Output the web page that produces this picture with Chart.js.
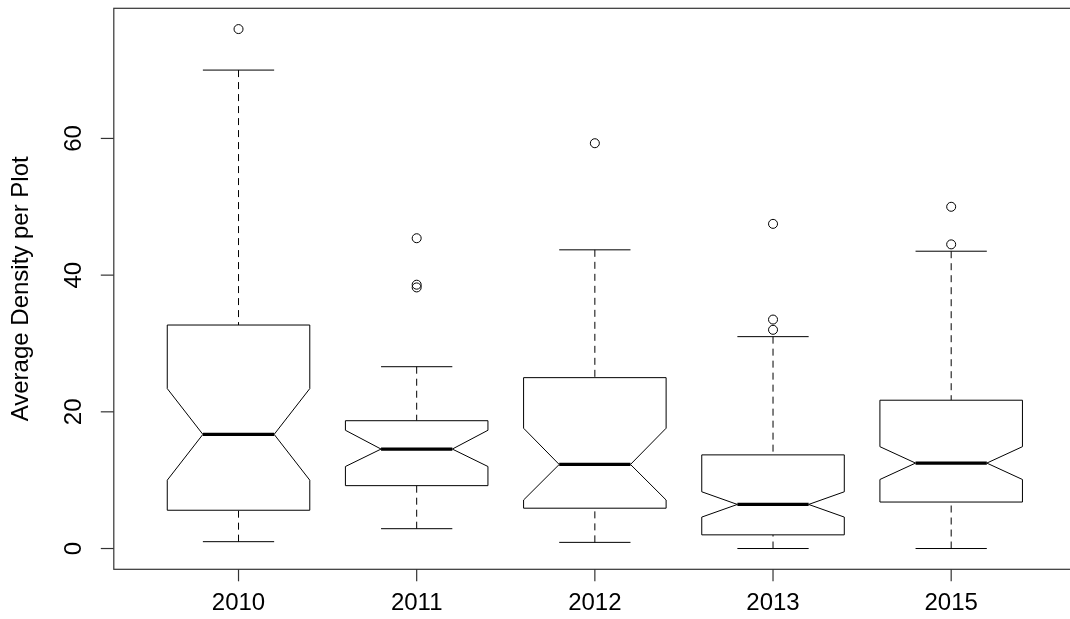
<!DOCTYPE html>
<html><head><meta charset="utf-8">
<script src="https://cdn.jsdelivr.net/npm/chart.js@4"></script>
<style>
html,body{margin:0;padding:0;background:#fff;overflow:hidden;width:1070px;height:619px}
#wrap{width:1070px;height:619px}
canvas{display:block}
</style></head>
<body><div id="wrap"><canvas id="c" width="1070" height="619"></canvas></div>
<script>
// ---- data ----
const categories   = ['2010', '2011', '2012', '2013', '2015'];
const lowerWhisker = [1.0, 2.9, 0.9, 0.0, 0.0];
const q1           = [5.6, 9.2, 5.9, 2.0, 6.8];
const notchLow     = [10.0, 12.0, 7.1, 4.6, 10.1];
const median       = [16.7, 14.55, 12.3, 6.45, 12.5];
const notchHigh    = [23.4, 17.3, 17.6, 8.3, 14.9];
const q3           = [32.7, 18.7, 25.0, 13.7, 21.7];
const upperWhisker = [70.0, 26.6, 43.7, 31.0, 43.5];
const outliers     = [[76.0], [45.4, 38.6, 38.2], [59.3], [47.5, 33.5, 32.0], [50.0, 44.5]];
const yTicks       = [0, 20, 40, 60];
const yTitle       = 'Average Density per Plot';

// ---- styling constants ----
const FONT = '24px "Liberation Sans", Arial, sans-serif';
const BOX_HALF = 0.4, NOTCH_HALF = 0.2, CAP_HALF = 0.2;
const X_FRAME_MAX = 5.7;   // R's extended x range end (lies just past the visible page)

const outlierPoints = [];
outliers.forEach((arr, i) => arr.forEach(v => outlierPoints.push({x: i + 1, y: v})));

const boxPlugin = {
  id: 'notchedBoxes',
  beforeDatasetsDraw(chart) {
    const {ctx, scales: {x, y}} = chart;
    const X = v => x.getPixelForValue(v);
    const Y = v => y.getPixelForValue(v);
    ctx.save();
    ctx.strokeStyle = '#000';
    ctx.lineWidth = 1;
    categories.forEach((c, i) => {
      const cx = i + 1;
      ctx.setLineDash([7, 5]);
      ctx.beginPath();
      ctx.moveTo(X(cx), Y(upperWhisker[i])); ctx.lineTo(X(cx), Y(q3[i]));
      ctx.moveTo(X(cx), Y(lowerWhisker[i])); ctx.lineTo(X(cx), Y(q1[i]));
      ctx.stroke();
      ctx.setLineDash([]);
      ctx.beginPath();
      ctx.moveTo(X(cx - CAP_HALF), Y(upperWhisker[i])); ctx.lineTo(X(cx + CAP_HALF), Y(upperWhisker[i]));
      ctx.moveTo(X(cx - CAP_HALF), Y(lowerWhisker[i])); ctx.lineTo(X(cx + CAP_HALF), Y(lowerWhisker[i]));
      ctx.stroke();
      ctx.beginPath();
      ctx.moveTo(X(cx - BOX_HALF), Y(q1[i]));
      ctx.lineTo(X(cx - BOX_HALF), Y(notchLow[i]));
      ctx.lineTo(X(cx - NOTCH_HALF), Y(median[i]));
      ctx.lineTo(X(cx - BOX_HALF), Y(notchHigh[i]));
      ctx.lineTo(X(cx - BOX_HALF), Y(q3[i]));
      ctx.lineTo(X(cx + BOX_HALF), Y(q3[i]));
      ctx.lineTo(X(cx + BOX_HALF), Y(notchHigh[i]));
      ctx.lineTo(X(cx + NOTCH_HALF), Y(median[i]));
      ctx.lineTo(X(cx + BOX_HALF), Y(notchLow[i]));
      ctx.lineTo(X(cx + BOX_HALF), Y(q1[i]));
      ctx.closePath();
      ctx.fillStyle = '#fff';
      ctx.fill();
      ctx.stroke();
      ctx.lineWidth = 3.2;
      ctx.beginPath();
      ctx.moveTo(X(cx - NOTCH_HALF), Y(median[i])); ctx.lineTo(X(cx + NOTCH_HALF), Y(median[i]));
      ctx.stroke();
      ctx.lineWidth = 1;
    });
    ctx.restore();
  },
  afterDraw(chart) {
    const {ctx, chartArea: a, scales: {x, y}} = chart;
    ctx.save();
    ctx.strokeStyle = '#333';
    ctx.lineWidth = 1.2;
    const right = x.getPixelForValue(X_FRAME_MAX);
    ctx.strokeRect(a.left, a.top, right - a.left, a.bottom - a.top);
    ctx.fillStyle = '#000';
    ctx.font = FONT;
    ctx.textAlign = 'center';
    ctx.textBaseline = 'middle';
    categories.forEach((c, i) => {
      const px = x.getPixelForValue(i + 1);
      ctx.beginPath(); ctx.moveTo(px, a.bottom); ctx.lineTo(px, a.bottom + 12); ctx.stroke();
      ctx.fillText(c, px, 603);
    });
    yTicks.forEach(t => {
      const py = y.getPixelForValue(t);
      ctx.beginPath(); ctx.moveTo(a.left - 13, py); ctx.lineTo(a.left, py); ctx.stroke();
      ctx.save();
      ctx.translate(74, py);
      ctx.rotate(-Math.PI / 2);
      ctx.fillText(String(t), 0, 0);
      ctx.restore();
    });
    ctx.save();
    ctx.translate(21, (a.top + a.bottom) / 2);
    ctx.rotate(-Math.PI / 2);
    ctx.fillText(yTitle, 0, 0);
    ctx.restore();
    ctx.restore();
  }
};

new Chart(document.getElementById('c'), {
  type: 'scatter',
  data: {
    datasets: [{
      label: 'Outliers',
      data: outlierPoints,
      pointStyle: 'circle',
      pointRadius: 4.5,
      pointBorderWidth: 1,
      borderColor: '#000',
      backgroundColor: 'rgba(0,0,0,0)'
    }]
  },
  options: {
    responsive: false,
    animation: false,
    devicePixelRatio: 1,
    events: [],
    layout: {padding: {left: 113.8, right: 0, top: 8.3, bottom: 49.7}},
    plugins: {legend: {display: false}, tooltip: {enabled: false}},
    scales: {
      x: {type: 'linear', min: 0.3, max: 5.636, display: false},
      y: {type: 'linear', min: -3.04, max: 79.04, display: false}
    }
  },
  plugins: [boxPlugin]
});
</script>
</body></html>
